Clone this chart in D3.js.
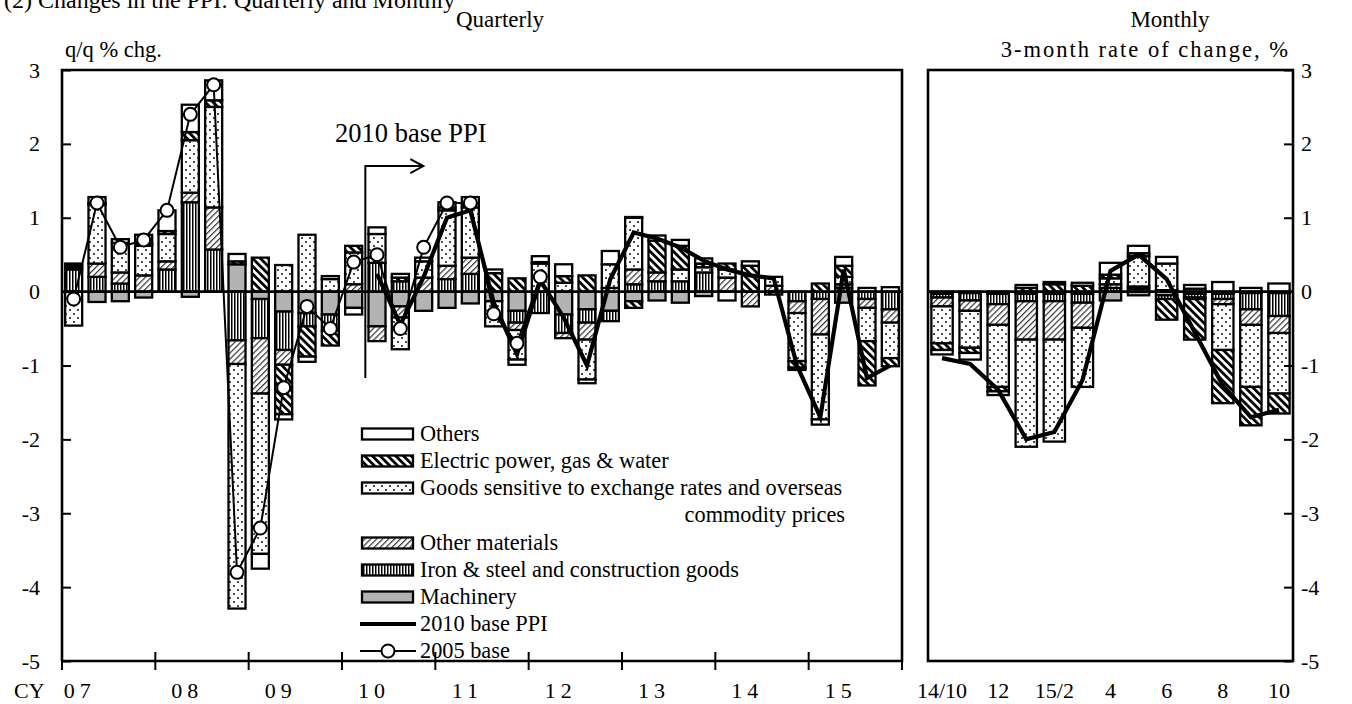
<!DOCTYPE html>
<html>
<head>
<meta charset="utf-8">
<script src="https://cdn.jsdelivr.net/npm/d3@7"></script>
<style>
  body { margin: 0; background: #fff; }
  svg text { font-family: "Liberation Serif", "Times New Roman", serif; fill: #000; }
</style>
</head>
<body>
<svg id="chart" width="1352" height="704"></svg>
<script>
// ---- Quarterly panel: contributions to q/q % change ----
const quarters = ["07Q1","07Q2","07Q3","07Q4","08Q1","08Q2","08Q3","08Q4",
                  "09Q1","09Q2","09Q3","09Q4","10Q1","10Q2","10Q3","10Q4",
                  "11Q1","11Q2","11Q3","11Q4","12Q1","12Q2","12Q3","12Q4",
                  "13Q1","13Q2","13Q3","13Q4","14Q1","14Q2","14Q3","14Q4",
                  "15Q1","15Q2","15Q3","15Q4"];
const yearLabels = ["07","08","09","10","11","12","13","14","15"];

const qMachinery = [0,-0.14,-0.13,-0.08,0,-0.07,0,0.37,-0.10,-0.27,-0.29,-0.31,
                    -0.22,-0.47,-0.20,-0.26,-0.22,-0.16,-0.13,-0.26,0,-0.31,-0.24,-0.26,
                    -0.13,-0.12,-0.15,-0.06,0,0,0,0,0,-0.15,0,0];
const qIron = [0.30,0.20,0.11,0,0.30,1.21,0.57,-0.66,-0.53,-0.52,-0.18,-0.22,
               0,0.39,0.14,0,0.17,0.24,0,-0.16,-0.29,-0.25,-0.18,-0.14,
               0.10,0.14,0.14,0.26,0,0,0,-0.13,-0.10,0.05,-0.10,-0.24];
const qOtherMat = [0.03,0.18,0.15,0.22,0.11,0.13,0.57,-0.32,-0.75,-0.20,0,0,
                   0.10,-0.20,-0.15,0.19,0.18,0.22,0,-0.10,0,-0.07,-0.23,0.05,
                   0.20,0.12,0,0,0.19,-0.20,0.08,-0.16,-0.48,0.05,-0.12,-0.18];
const qGoods = [-0.46,0.80,0.40,0.40,0.37,0.71,1.36,-3.31,-2.17,0.36,0.77,0.17,
                0.43,0.39,-0.43,0.22,0.75,0.68,-0.34,-0.40,0.38,0.12,-0.54,0.32,
                0.70,0,0.16,0.07,0.11,0,0.12,-0.65,-1.15,0.10,-0.45,-0.48];
const qElectric = [0.03,0.02,0,0.03,0.04,0.11,0.09,0.04,0.46,-0.67,-0.41,-0.20,
                   0.09,0,0.05,0,0.04,0.05,0.25,0.18,0.02,0.09,0.22,0,
                   -0.09,0.43,0.32,0.05,0.08,0.35,-0.04,-0.09,0.11,0.15,-0.60,-0.11];
const qOthers = [0.02,0.08,0.05,0.12,0.28,0.37,0.27,0.10,-0.20,-0.07,-0.07,0.04,
                 -0.09,0.09,0.05,0.05,0.07,0.09,0.05,-0.07,0.08,0.16,-0.05,0.18,
                 0.01,0.07,0.08,0.07,-0.12,0.06,0,-0.03,-0.07,0.12,0.05,0.06];

const ppi2010Q = [null,null,null,null,null,null,null,null,null,null,null,null,null,
                  0.24,-0.45,0.20,1.00,1.10,-0.15,-0.85,0.15,-0.35,-1.00,0.17,
                  0.80,0.72,0.60,0.42,0.30,0.22,0.18,-1.00,-1.70,0.30,-1.17,-1.00];
const ppi2005Q = [-0.1,1.2,0.6,0.7,1.1,2.4,2.8,-3.8,-3.2,-1.3,-0.2,-0.5,
                  0.4,0.5,-0.5,0.6,1.2,1.2,-0.3,-0.7,0.2,
                  null,null,null,null,null,null,null,null,null,null,null,null,null,null,null];

// ---- Monthly panel: 3-month rate of change ----
const months = ["14/10","14/11","14/12","15/1","15/2","15/3","15/4","15/5",
                "15/6","15/7","15/8","15/9","15/10"];
const monthTicks = ["14/10","14/12","15/2","15/4","15/6","15/8","15/10"];
const monthTickLabels = ["14/10","12","15/2","4","6","8","10"];

const mMachinery = [-0.03,-0.02,-0.03,-0.03,-0.03,-0.03,-0.12,-0.05,-0.05,-0.03,-0.03,-0.02,-0.02];
const mIron = [-0.05,-0.10,-0.14,-0.10,-0.10,-0.12,0.05,0.04,-0.05,-0.05,-0.07,-0.22,-0.31];
const mOtherMat = [-0.12,-0.14,-0.28,-0.52,-0.52,-0.34,0.05,0.03,0.02,-0.02,-0.07,-0.21,-0.23];
const mGoods = [-0.50,-0.50,-0.84,-1.45,-1.38,-0.80,0.08,0.41,0.36,0.04,-0.62,-0.84,-0.82];
const mElectric = [-0.09,-0.07,-0.06,0.05,0.10,0.08,0.05,0.04,-0.28,-0.55,-0.72,-0.52,-0.27];
const mOthers = [-0.06,-0.09,-0.05,0.04,0.03,0.04,0.16,0.10,0.09,0.05,0.13,0.05,0.11];
const ppi2010M = [-0.90,-0.98,-1.33,-2.00,-1.90,-1.20,0.28,0.50,0.17,-0.55,-1.27,-1.70,-1.60];

const yTicks = [-5,-4,-3,-2,-1,0,1,2,3];

// series in stacking order (closest to zero first)
const seriesKeys = ["machinery","iron","otherMat","goods","electric","others"];
const seriesNames = {
  others: "Others",
  electric: "Electric power, gas & water",
  goods: "Goods sensitive to exchange rates and overseas",
  otherMat: "Other materials",
  iron: "Iron & steel and construction goods",
  machinery: "Machinery"
};

const svg = d3.select("#chart");
const defs = svg.append("defs");

// fill patterns for each component
function stripePattern(id, size, barW, angle, color) {
  const p = defs.append("pattern").attr("id", id)
    .attr("patternUnits", "userSpaceOnUse")
    .attr("width", size).attr("height", size)
    .attr("patternTransform", `rotate(${angle})`);
  p.append("rect").attr("width", size).attr("height", size).attr("fill", "#fff");
  p.append("rect").attr("x", 0).attr("y", 0).attr("width", barW).attr("height", size).attr("fill", color);
}
stripePattern("pElectric", 5.5, 2.8, -45, "#000");
stripePattern("pOtherMat", 4.2, 1.2, 45, "#333");
stripePattern("pIron", 3, 1.5, 0, "#000");
{
  const p = defs.append("pattern").attr("id", "pGoods")
    .attr("patternUnits", "userSpaceOnUse").attr("width", 8).attr("height", 8);
  p.append("rect").attr("width", 8).attr("height", 8).attr("fill", "#fff");
  p.append("circle").attr("cx", 2).attr("cy", 2).attr("r", 0.95).attr("fill", "#000");
  p.append("circle").attr("cx", 6).attr("cy", 6).attr("r", 0.95).attr("fill", "#000");
}
const fills = {
  machinery: "#b3b3b3",
  iron: "url(#pIron)",
  otherMat: "url(#pOtherMat)",
  goods: "url(#pGoods)",
  electric: "url(#pElectric)",
  others: "#fff"
};

// scales
const y = d3.scaleLinear().domain([-5, 3]).range([661, 70]);
const xQ = d3.scaleBand().domain(quarters).range([62, 902]).paddingInner(0.27).paddingOuter(0.135);
const xM = d3.scaleBand().domain(months).range([928, 1293]).paddingInner(0.24).paddingOuter(0.12);

const stack = d3.stack().keys(seriesKeys).offset(d3.stackOffsetDiverging);

const qRows = quarters.map((q, i) => ({
  cat: q, machinery: qMachinery[i], iron: qIron[i], otherMat: qOtherMat[i],
  goods: qGoods[i], electric: qElectric[i], others: qOthers[i]
}));
const mRows = months.map((m, i) => ({
  cat: m, machinery: mMachinery[i], iron: mIron[i], otherMat: mOtherMat[i],
  goods: mGoods[i], electric: mElectric[i], others: mOthers[i]
}));

function drawBars(g, rows, x) {
  const layers = stack(rows);
  layers.forEach(layer => {
    g.append("g").selectAll("rect")
      .data(layer.filter(d => Math.abs(d[1] - d[0]) > 1e-9))
      .join("rect")
      .attr("x", d => x(d.data.cat))
      .attr("width", x.bandwidth())
      .attr("y", d => y(Math.max(d[0], d[1])))
      .attr("height", d => Math.abs(y(d[0]) - y(d[1])))
      .attr("fill", fills[layer.key])
      .attr("stroke", "#000")
      .attr("stroke-width", 2.3);
  });
}

const gBarsQ = svg.append("g");
drawBars(gBarsQ, qRows, xQ);
const gBarsM = svg.append("g");
drawBars(gBarsM, mRows, xM);

// zero lines
svg.append("line").attr("x1", 62).attr("x2", 902).attr("y1", y(0)).attr("y2", y(0))
  .attr("stroke", "#000").attr("stroke-width", 2.6);
svg.append("line").attr("x1", 928).attr("x2", 1293).attr("y1", y(0)).attr("y2", y(0))
  .attr("stroke", "#000").attr("stroke-width", 2.6);

// lines
const lineQ = d3.line().defined(d => d.v != null)
  .x(d => xQ(d.cat) + xQ.bandwidth() / 2).y(d => y(d.v));
const lineM = d3.line().x(d => xM(d.cat) + xM.bandwidth() / 2).y(d => y(d.v));

svg.append("path")
  .attr("d", lineQ(quarters.map((q, i) => ({ cat: q, v: ppi2010Q[i] }))))
  .attr("fill", "none").attr("stroke", "#000").attr("stroke-width", 4.2);
svg.append("path")
  .attr("d", lineM(months.map((m, i) => ({ cat: m, v: ppi2010M[i] }))))
  .attr("fill", "none").attr("stroke", "#000").attr("stroke-width", 4.2);

const old = quarters.map((q, i) => ({ cat: q, v: ppi2005Q[i] })).filter(d => d.v != null);
svg.append("path").attr("d", lineQ(old))
  .attr("fill", "none").attr("stroke", "#000").attr("stroke-width", 2);
svg.append("g").selectAll("circle").data(old).join("circle")
  .attr("cx", d => xQ(d.cat) + xQ.bandwidth() / 2).attr("cy", d => y(d.v))
  .attr("r", 6.5).attr("fill", "#fff").attr("stroke", "#000").attr("stroke-width", 2);

// panel frames
svg.append("path").attr("d", "M62,661V70H902V661H62")
  .attr("fill", "none").attr("stroke", "#000").attr("stroke-width", 2.6);
svg.append("rect").attr("x", 928).attr("y", 70).attr("width", 365).attr("height", 591)
  .attr("fill", "none").attr("stroke", "#000").attr("stroke-width", 2.6);

// y axes
const fmt = d => String(d);
const axL = svg.append("g").attr("transform", "translate(62,0)")
  .call(d3.axisLeft(y).tickValues(yTicks).tickFormat(fmt).tickSize(-9).tickPadding(22));
const axR = svg.append("g").attr("transform", "translate(1293,0)")
  .call(d3.axisRight(y).tickValues(yTicks).tickFormat(fmt).tickSize(-9).tickPadding(8));
[axL, axR].forEach(a => {
  a.select(".domain").remove();
  a.selectAll("line").attr("stroke", "#000").attr("stroke-width", 2);
  a.selectAll("text").attr("font-size", 22)
    .attr("font-family", "Liberation Serif, Times New Roman, serif");
});

// year boundary ticks on the quarterly axis
const yearStarts = quarters.filter(q => q.endsWith("Q1"));
const gap = xQ.step() * xQ.paddingInner() / 2;
const bounds = yearStarts.map(q => xQ(q) - gap).concat([xQ.range()[1]]);
svg.append("g").selectAll("line").data(bounds).join("line")
  .attr("x1", d => d).attr("x2", d => d)
  .attr("y1", y(-5) - 9).attr("y2", y(-5) + 9)
  .attr("stroke", "#000").attr("stroke-width", 2);

// year labels
svg.append("text").attr("x", 14).attr("y", 698).attr("font-size", 22).text("CY");
svg.append("g").selectAll("text").data(yearLabels).join("text")
  .attr("x", (d, i) => i === 0 ? xQ(d + "Q1") + xQ.bandwidth() / 2 + 6
                               : xQ(d + "Q2") + xQ.bandwidth() / 2 - 3)
  .attr("y", 698).attr("text-anchor", "middle")
  .attr("font-size", 22).attr("letter-spacing", "5px")
  .text(d => d);

// month labels
svg.append("g").selectAll("text").data(monthTicks).join("text")
  .attr("x", d => xM(d) + xM.bandwidth() / 2)
  .attr("y", 698).attr("text-anchor", "middle").attr("font-size", 22)
  .text((d, i) => monthTickLabels[i]);

// panel titles and units
svg.append("text").attr("x", 4).attr("y", 8).attr("font-size", 24)
  .text("(2) Changes in the PPI: Quarterly and Monthly");
svg.append("text").attr("x", 500).attr("y", 27).attr("text-anchor", "middle").attr("font-size", 23).text("Quarterly");
svg.append("text").attr("x", 1170).attr("y", 27).attr("text-anchor", "middle").attr("font-size", 23).text("Monthly");
svg.append("text").attr("x", 65).attr("y", 57).attr("font-size", 22.5).text("q/q % chg.");
svg.append("text").attr("x", 1290).attr("y", 57).attr("text-anchor", "end").attr("font-size", 22.5)
  .attr("letter-spacing", "2px").text("3-month rate of change, %");

// 2010 base annotation
const splitX = (xQ("10Q1") + xQ.bandwidth() + xQ("10Q2")) / 2;
svg.append("text").attr("x", 335).attr("y", 142).attr("font-size", 26.5).text("2010 base PPI");
svg.append("path")
  .attr("d", `M${splitX},${y(-1.17)}V${y(1.7)}H${splitX + 58}M${splitX + 45},${y(1.7) - 7}L${splitX + 58},${y(1.7)}L${splitX + 45},${y(1.7) + 7}`)
  .attr("fill", "none").attr("stroke", "#000").attr("stroke-width", 2);

// legend
const legendKeys = ["others","electric","goods","otherMat","iron","machinery"];
const legRowY = { others: 434, electric: 461, goods: 488, otherMat: 543, iron: 570, machinery: 597 };
const leg = svg.append("g");
legendKeys.forEach(k => {
  leg.append("rect").attr("x", 362).attr("y", legRowY[k] - 5.5).attr("width", 51).attr("height", 11)
    .attr("fill", fills[k]).attr("stroke", "#000").attr("stroke-width", 2.3);
  leg.append("text").attr("x", 420).attr("y", legRowY[k] + 7).attr("font-size", 22.3).text(seriesNames[k]);
});
leg.append("text").attr("x", 845).attr("y", 515 + 7).attr("text-anchor", "end").attr("font-size", 22.3)
  .text("commodity prices");
leg.append("line").attr("x1", 360).attr("x2", 416).attr("y1", 624).attr("y2", 624)
  .attr("stroke", "#000").attr("stroke-width", 4.2);
leg.append("text").attr("x", 420).attr("y", 631).attr("font-size", 22.3).text("2010 base PPI");
leg.append("line").attr("x1", 360).attr("x2", 416).attr("y1", 651).attr("y2", 651)
  .attr("stroke", "#000").attr("stroke-width", 2);
leg.append("circle").attr("cx", 388).attr("cy", 651).attr("r", 6.5)
  .attr("fill", "#fff").attr("stroke", "#000").attr("stroke-width", 2);
leg.append("text").attr("x", 420).attr("y", 658).attr("font-size", 22.3).text("2005 base");
</script>
</body>
</html>
